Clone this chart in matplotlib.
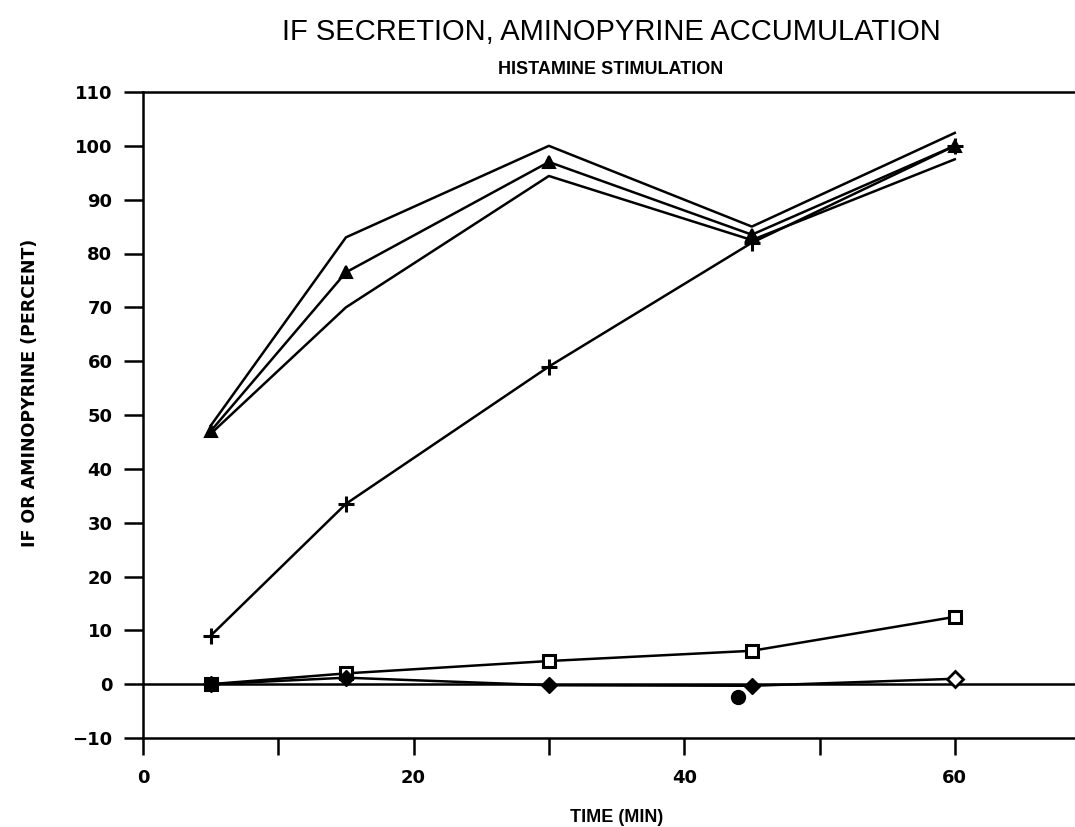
import matplotlib
matplotlib.use("Agg")
import matplotlib.pyplot as plt

# Sampling times (min)
time = [5, 15, 30, 45, 60]

# IF secretion (percent) with upper / lower bounds
if_mean = [47, 76.5, 97, 83.5, 100]
if_upper = [48, 83, 100, 85, 102.4]
if_lower = [46.5, 70, 94.4, 82.5, 97.5]

# Aminopyrine accumulation (percent)
ap_accum = [9, 33.5, 59, 82, 100]

# Control series
ctrl_square = [0, 2.0, 4.3, 6.2, 12.5]
ctrl_diamond = [0, 1.2, -0.2, -0.3, 1.0]

# Isolated points
dot_time = [5, 44]
dot_value = [0, -2.4]

y_ticks = list(range(-10, 111, 10))
x_ticks = list(range(0, 61, 10))
x_tick_labels = ["0", "", "20", "", "40", "", "60"]

fig = plt.figure(figsize=(10.75, 8.27), dpi=100)
ax = fig.add_axes([143 / 1075, 1 - 738 / 827, 1 - 143 / 1075, (738 - 92) / 827])

lw = 1.8
ax.axhline(0, color="black", lw=lw, zorder=1)

ax.plot(time, if_upper, color="black", lw=lw)
ax.plot(time, if_lower, color="black", lw=lw)
ax.plot(time, if_mean, color="black", lw=lw, marker="^", ms=8, mfc="black",
        mec="black", mew=1.5)
ax.plot(time, ap_accum, color="black", lw=lw, marker="+", ms=12, mew=2.2)
ax.plot(time, ctrl_square, color="black", lw=lw, marker="s", ms=9, mfc="white",
        mec="black", mew=2.2)
ax.plot(time, ctrl_diamond, color="black", lw=lw, marker="D", ms=8,
        markevery=[0, 1, 2, 3], mfc="black", mec="black")
ax.plot(time[-1:], ctrl_diamond[-1:], ls="none", marker="D", ms=8,
        mfc="white", mec="black", mew=2)
ax.plot(dot_time, dot_value, ls="none", marker="o", ms=10, color="black")

ax.set_yticks(y_ticks)
ax.set_xticks(x_ticks)
ax.set_xticklabels(x_tick_labels)
ax.set_xlim(0, (1075 - 143) / 13.53)
ax.set_ylim(-10, 110)

for side in ("left", "bottom", "top"):
    ax.spines[side].set_linewidth(lw)
ax.spines["right"].set_visible(False)

ax.tick_params(axis="y", direction="out", length=14, width=lw, pad=8)
ax.tick_params(axis="x", direction="out", length=12, width=lw, pad=10)
for lab in ax.get_yticklabels() + ax.get_xticklabels():
    lab.set_fontfamily("DejaVu Sans")
    lab.set_fontweight("bold")
    lab.set_fontsize(13)

fig.text(611 / 1075, 1 - 32 / 827, "IF SECRETION, AMINOPYRINE ACCUMULATION",
         ha="center", va="center", fontsize=21,
         family=["Liberation Sans Narrow", "Liberation Sans"])
fig.text(611 / 1075, 1 - 70 / 827, "HISTAMINE STIMULATION",
         ha="center", va="center", fontsize=13, weight="bold",
         family=["Liberation Sans Narrow", "Liberation Sans"])
fig.text(617 / 1075, 1 - 817 / 827, "TIME (MIN)", ha="center", va="center",
         fontsize=13, weight="bold",
         family=["Liberation Sans Narrow", "Liberation Sans"])
fig.text(30 / 1075, 1 - 393 / 827, "IF OR AMINOPYRINE (PERCENT)", ha="center",
         va="center", rotation=90, fontsize=12.5, weight="bold",
         family=["DejaVu Sans"])

fig.savefig("out.png", dpi=100)
